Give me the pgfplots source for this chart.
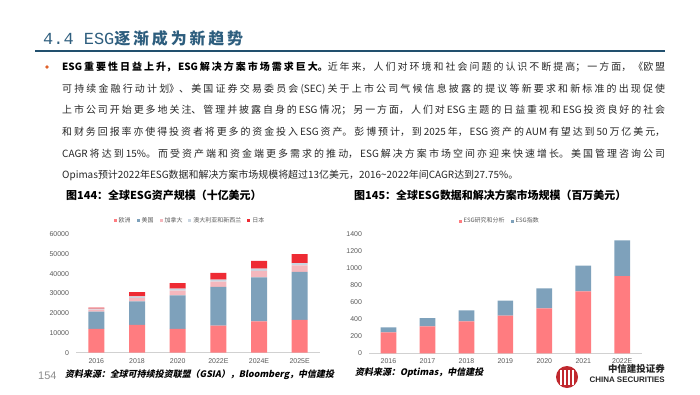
\documentclass[border=0pt]{standalone}
\usepackage{fontspec}
\usepackage{graphicx}
\usepackage{pgfplots}
\pgfplotsset{compat=1.18}
\setmainfont{Liberation Sans}
\setmonofont{Liberation Mono}
\newfontfamily\cjk{Noto Sans CJK SC}
\newfontfamily\cjksl{Noto Sans CJK SC}[FakeSlant=0.2]
\newfontfamily\cjkt{Noto Sans CJK SC}[LetterSpace=18]
\definecolor{titleC}{HTML}{2E5E7E}
\definecolor{ruleC}{HTML}{22506E}
\definecolor{bulletC}{HTML}{E0622A}
\definecolor{bodyC}{HTML}{262626}
\definecolor{tickC}{HTML}{595959}
\definecolor{eu}{HTML}{FF7C80}
\definecolor{us}{HTML}{7EA1BB}
\definecolor{ca}{HTML}{F5B7BD}
\definecolor{au}{HTML}{C9D6E2}
\definecolor{jp}{HTML}{EE2B34}
\definecolor{logoC}{HTML}{C0282E}
\newcommand\jl[1]{\parbox{603bp}{\cjk\fontsize{10}{12}\selectfont\color{bodyC}\XeTeXlinebreaklocale "zh"\XeTeXlinebreakskip=0pt plus 4pt\relax\parfillskip=0pt\relax\tolerance=10000\relax #1\par}}
\pgfplotsset{
  slide/.style={
    scale only axis,
    ybar stacked,
    axis x line*=bottom, axis y line*=left,
    axis line style={-},
    y axis line style={draw=none},
    x axis line style={draw=black!18, line width=0.7bp},
    major tick length=0,
    tick label style={font=\fontsize{7}{8}\selectfont, text=tickC},
    yticklabel style={xshift=-3.5bp, /pgf/number format/fixed, /pgf/number format/1000 sep={}},
    xticklabel style={yshift=-2bp},
    scaled y ticks=false,
    /pgf/number format/assume math mode=true,
    legend columns=-1,
    legend style={draw=none, fill=none, font=\cjk\fontsize{6}{7}\selectfont, text=tickC, inner sep=0pt,
      /tikz/every even column/.append style={column sep=4bp}},
    legend image code/.code={\fill[##1] (0bp,-1.5bp) rectangle (3bp,1.5bp);},
  }
}
\begin{document}
\begin{tikzpicture}[x=1bp,y=1bp]
\path[use as bounding box] (0,0) rectangle (700,394);
% title
\node[anchor=west, inner sep=0pt, text=titleC] at (43,356) {\fontsize{17}{17}\ttfamily 4.4 ESG{\cjkt\bfseries\fontsize{16}{16}\selectfont 逐渐成为新趋势}};
\draw[line width=2.6bp, ruleC] (35,343) -- (665,343);
\fill[bulletC] (47,327) circle (1.8);
% body
\node[anchor=west, inner sep=0pt] at (62,327) {\jl{{\bfseries\color{black}ESG重要性日益上升，ESG解决方案市场需求巨大。}近年来，人们对环境和社会问题的认识不断提高；一方面，《欧盟}};
\node[anchor=west, inner sep=0pt] at (62,305) {\jl{可持续金融行动计划》、美国证券交易委员会(SEC)关于上市公司气候信息披露的提议等新要求和新标准的出现促使}};
\node[anchor=west, inner sep=0pt] at (62,283.5) {\jl{上市公司开始更多地关注、管理并披露自身的ESG情况；另一方面，人们对ESG主题的日益重视和ESG投资良好的社会}};
\node[anchor=west, inner sep=0pt] at (62,262) {\jl{和财务回报率亦使得投资者将更多的资金投入ESG资产。彭博预计，到2025年，ESG资产的AUM有望达到50万亿美元，}};
\node[anchor=west, inner sep=0pt] at (62,240.5) {\jl{CAGR将达到15\%。而受资产端和资金端更多需求的推动，ESG解决方案市场空间亦迎来快速增长。美国管理咨询公司}};
\node[anchor=west, inner sep=0pt, text=bodyC] at (62,219) {\cjk\fontsize{10}{12}\selectfont Opimas预计2022年ESG数据和解决方案市场规模将超过13亿美元，2016\textasciitilde2022年间CAGR达到27.75\%。};
% captions
\node[anchor=west, inner sep=0pt] at (66,199) {\cjk\bfseries\fontsize{11}{12}\selectfont 图144：全球ESG资产规模（十亿美元）};
\node[anchor=west, inner sep=0pt] at (354,199) {\cjk\bfseries\fontsize{11}{12}\selectfont 图145：全球ESG数据和解决方案市场规模（百万美元）};
% left chart
\begin{axis}[slide, at={(76bp,41.3bp)}, anchor=south west,
  width=244bp, height=118.4bp,
  xmin=-0.5, xmax=5.5, ymin=0, ymax=60000,
  ytick={0,10000,...,60000},
  xtick={0,1,2,3,4,5}, xticklabels={2016,2018,2020,2022E,2024E,2025E},
  bar width=16bp,
  legend style={at={(rel axis cs:0.467,1.115)}, anchor=center},
]
\addplot[fill=eu, draw=none] coordinates {(0,12040) (1,14075) (2,12017) (3,13700) (4,15900) (5,16700)};
\addplot[fill=us, draw=none] coordinates {(0,8723) (1,11995) (2,17081) (3,19600) (4,22300) (5,24300)};
\addplot[fill=ca, draw=none] coordinates {(0,1086) (1,1699) (2,2423) (3,2700) (4,3300) (5,3300)};
\addplot[fill=au, draw=none] coordinates {(0,516) (1,734) (2,906) (3,1000) (4,1100) (5,1100)};
\addplot[fill=jp, draw=none] coordinates {(0,474) (1,2180) (2,2874) (3,3400) (4,4000) (5,4500)};
\legend{欧洲,美国,加拿大,澳大利亚和新西兰,日本}
\end{axis}
% right chart
\begin{axis}[slide, at={(369bp,40.7bp)}, anchor=south west,
  width=272.7bp, height=119.6bp,
  xmin=-0.5, xmax=6.5, ymin=0, ymax=1400,
  ytick={0,200,...,1400},
  xtick={0,1,2,3,4,5,6}, xticklabels={2016,2017,2018,2019,2020,2021,2022E},
  bar width=15.7bp,
  legend style={at={(rel axis cs:0.479,1.106)}, anchor=center},
]
\addplot[fill=eu, draw=none] coordinates {(0,245) (1,316) (2,374) (3,440) (4,526) (5,725) (6,904)};
\addplot[fill=us, draw=none] coordinates {(0,59) (1,97) (2,129) (3,176) (4,234) (5,300) (6,418)};
\legend{ESG研究和分析,ESG指数}
\end{axis}
% footer
\node[anchor=west, inner sep=0pt, text=black!45] at (38,18) {\fontsize{11}{12}\selectfont 154};
\node[anchor=west, inner sep=0pt] at (65,19) {\cjksl\bfseries\fontsize{9}{10}\selectfont 资料来源：全球可持续投资联盟（GSIA），Bloomberg，中信建投};
\node[anchor=west, inner sep=0pt] at (355,21) {\cjksl\bfseries\fontsize{9}{10}\selectfont 资料来源：Optimas，中信建投};
% logo
\fill[logoC] (567,17) circle (11);
\foreach \dx in {-6,-2,2,6} {\draw[white, line width=1.1bp] (567+\dx,9) -- (567+\dx,24);}
\node[anchor=east, inner sep=0pt, text=black!85] at (665,25.5) {\cjk\bfseries\fontsize{9.5}{10}\selectfont 中信建投证券};
\node[anchor=east, inner sep=0pt, text=black!85] at (665,14.5) {\bfseries\fontsize{8}{9}\selectfont CHINA SECURITIES};
\end{tikzpicture}
\end{document}
